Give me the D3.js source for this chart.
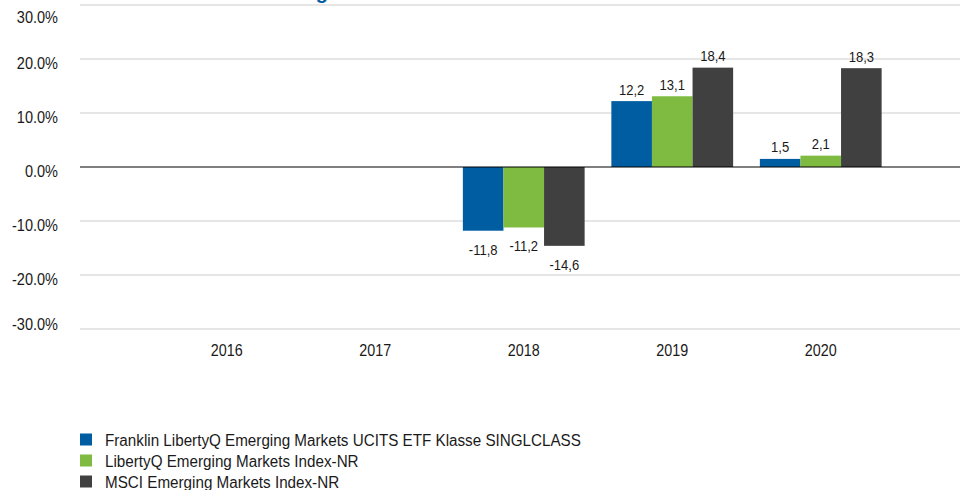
<!DOCTYPE html>
<html>
<head>
<meta charset="utf-8">
<script src="https://cdn.jsdelivr.net/npm/d3@7"></script>
<style>
  body { margin: 0; background: #fff; }
  svg { display: block; font-family: "Liberation Sans", Arial, sans-serif; }
</style>
</head>
<body>
<div id="chart"></div>
<script>
const years = ["2016", "2017", "2018", "2019", "2020"]
const seriesNames = [
    "Franklin LibertyQ Emerging Markets UCITS ETF Klasse SINGLCLASS",
    "LibertyQ Emerging Markets Index-NR",
    "MSCI Emerging Markets Index-NR"
]
const fundValues = [null, null, -11.8, 12.2, 1.5]
const indexValues = [null, null, -11.2, 13.1, 2.1]
const msciValues = [null, null, -14.6, 18.4, 18.3]
const yTicks = [30, 20, 10, 0, -10, -20, -30]
const colors = ["#005da2", "#7fbb40", "#404040"]

const allValues = [fundValues, indexValues, msciValues]
const rows = []
years.forEach((yr, i) => {
    allValues.forEach((vals, s) => {
        if (vals[i] !== null) rows.push({year: yr, series: s, value: vals[i]})
    })
})

const width = 960
const height = 490
// the reference text is a bit condensed
const squeeze = 0.88

const svg = d3.select("#chart")
    .append("svg")
    .attr("width", width)
    .attr("height", height)
    .attr("viewBox", [0, 0, width, height])

const layer_grid = svg.append("g")
const layer_bars = svg.append("g")
const layer_zero = svg.append("g")
const layer_labels = svg.append("g")
const layer_y_axis = svg.append("g")
const layer_x_axis = svg.append("g")
const layer_legend = svg.append("g")
const layer_title = svg.append("g")

const x = d3.scaleBand()
    .domain(years)
    .range([152.5, 895])
    .paddingInner(0.18)
    .paddingOuter(0.09)

const xs = d3.scaleBand()
    .domain([0, 1, 2])
    .range([0, x.bandwidth()])

const y = d3.scaleLinear()
    .domain([-30, 30])
    .range([329, 5])

const fmt = v => d3.format(".1f")(v).replace("−", "-")

// gridlines
layer_grid.selectAll("line")
    .data(yTicks.filter(d => d !== 0))
    .join("line")
    .attr("x1", 80)
    .attr("x2", width)
    .attr("y1", d => y(d))
    .attr("y2", d => y(d))
    .attr("stroke", "#dedede")
    .attr("stroke-width", 1.5)

layer_zero.append("line")
    .attr("x1", 80)
    .attr("x2", width)
    .attr("y1", y(0))
    .attr("y2", y(0))
    .attr("stroke", "#000")
    .attr("stroke-width", 1.2)

layer_bars.selectAll("rect")
    .data(rows)
    .join("rect")
    .attr("x", d => x(d.year) + xs(d.series))
    .attr("width", xs.bandwidth())
    .attr("y", d => y(Math.max(0, d.value)))
    .attr("height", d => Math.abs(y(d.value) - y(0)))
    .attr("fill", d => colors[d.series])

layer_labels.selectAll("text")
    .data(rows)
    .join("text")
    .attr("transform", d => {
        const cx = x(d.year) + xs(d.series) + xs.bandwidth() / 2
        const cy = d.value >= 0 ? y(d.value) - 6.5 : y(d.value) + 24
        return `translate(${cx},${cy}) scale(${squeeze},1)`
    })
    .attr("text-anchor", "middle")
    .style("font-size", "14.8px")
    .attr("fill", "#1a1a1a")
    .text(d => fmt(d.value).replace(".", ","))

// y axis labels (top and bottom ones are pushed inwards)
layer_y_axis.selectAll("text")
    .data(yTicks)
    .join("text")
    .attr("transform", d => `translate(58,${Math.min(324.5, Math.max(17.5, y(d) + 4.5))}) scale(${squeeze},1)`)
    .attr("dy", "0.35em")
    .attr("text-anchor", "end")
    .style("font-size", "16.5px")
    .attr("fill", "#1a1a1a")
    .text(d => fmt(d) + "%")

layer_x_axis.selectAll("text")
    .data(years)
    .join("text")
    .attr("transform", d => `translate(${x(d) + x.bandwidth() / 2},356) scale(${squeeze},1)`)
    .attr("text-anchor", "middle")
    .style("font-size", "16.3px")
    .attr("fill", "#1a1a1a")
    .text(d => d)

const legendItem = layer_legend.selectAll("g")
    .data(seriesNames)
    .join("g")
    .attr("transform", (d, i) => `translate(80,${433.5 + i * 21})`)

legendItem.append("rect")
    .attr("width", 12)
    .attr("height", 12)
    .attr("fill", (d, i) => colors[i])

legendItem.append("text")
    .attr("transform", `translate(25,12) scale(${squeeze},1)`)
    .style("font-size", "17.3px")
    .attr("fill", "#1a1a1a")
    .text(d => d)

layer_title.append("text")
    .attr("x", 328)
    .attr("y", -1.5)
    .attr("text-anchor", "end")
    .style("font-size", "20px")
    .style("font-weight", "bold")
    .attr("fill", "#005da2")
    .text("Wertentwicklung")
</script>
</body>
</html>
